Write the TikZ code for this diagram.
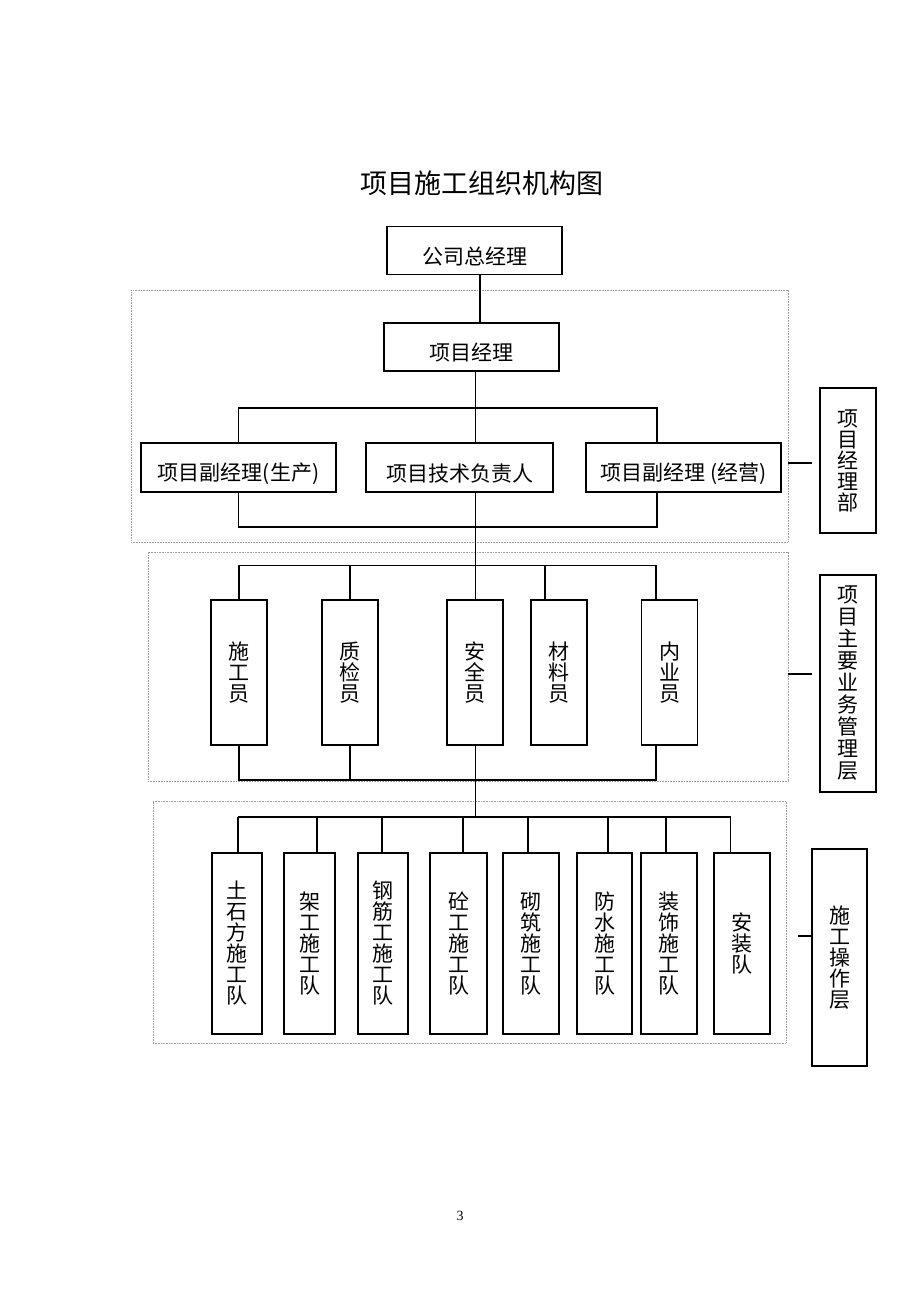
\documentclass[tikz,border=0pt]{standalone}
\usepackage{fontspec}
\setmainfont{Liberation Serif}
\newfontfamily\cjk{Noto Sans CJK SC}
\newcommand\lowtxt[1]{\raisebox{-4.5pt}[\height][\depth]{#1}}
\begin{document}
\begin{tikzpicture}[x=0.75pt,y=-0.75pt,
  wh/.style 2 args={minimum width=#1*0.75pt, minimum height=#2*0.75pt},
  bx/.style={draw, line width=1.2pt, inner sep=0pt, align=center,
    font=\cjk\fontsize{15.75}{15.75}\selectfont},
  conn/.style={line width=1pt},
  grp/.style={draw=gray!75, line width=0.7pt, dash pattern=on 0.6pt off 0.6pt, inner sep=0pt}]
\useasboundingbox (0,0) rectangle (920,1302);

% title
\node[font=\cjk\fontsize{20.25}{24}\selectfont] (title) at (482,183) {项目施工组织机构图};

% dotted groups
\node[grp, wh={657}{252}] (g1) at (459.5,416) {};
\node[grp, wh={640}{229}] (g2) at (468,666.5) {};
\node[grp, wh={633}{242}] (g3) at (469.5,922) {};

% top
\node[bx, wh={175}{48}] (gm) at (474.5,250.5) {\lowtxt{公司总经理}};
\node[bx, wh={175}{48}] (pm) at (471.5,347) {\lowtxt{项目经理}};

% level 1
\node[bx, wh={195}{49}] (sc) at (238.5,467.5) {\lowtxt{项目副经理(生产)}};
\node[bx, wh={187}{49}] (js) at (459.5,467.5) {\lowtxt{项目技术负责人}};
\node[bx, wh={195}{49}] (jy) at (683.5,467.5) {\lowtxt{项目副经理 (经营)}};

% level 2
\node[bx, wh={56}{145}] (sgy) at (239,672.5) {施\\工\\员};
\node[bx, wh={56}{145}] (zjy) at (350,672.5) {质\\检\\员};
\node[bx, wh={56}{145}] (aqy) at (475,672.5) {安\\全\\员};
\node[bx, wh={56}{145}] (cly) at (559,672.5) {材\\料\\员};
\node[bx, wh={56}{145}] (nyy) at (669.5,672.5) {内\\业\\员};

% level 3
\node[bx, wh={50}{181}] (t1) at (237,943.5) {土\\石\\方\\施\\工\\队};
\node[bx, wh={51}{181}] (t2) at (309.5,943.5) {架\\工\\施\\工\\队};
\node[bx, wh={50}{181}] (t3) at (383,943.5) {钢\\筋\\工\\施\\工\\队};
\node[bx, wh={57}{181}] (t4) at (458.5,943.5) {砼\\工\\施\\工\\队};
\node[bx, wh={56}{181}] (t5) at (531,943.5) {砌\\筑\\施\\工\\队};
\node[bx, wh={55}{181}] (t6) at (604.5,943.5) {防\\水\\施\\工\\队};
\node[bx, wh={56}{181}] (t7) at (669,943.5) {装\\饰\\施\\工\\队};
\node[bx, wh={56}{181}] (t8) at (742,943.5) {安\\装\\队};

% side labels
\node[bx, wh={56}{145}] (s1) at (848,460.5) {项\\目\\经\\理\\部};
\node[bx, wh={56}{217}, font=\cjk\fontsize{15.75}{16.5}\selectfont] (s2) at (848,683.5) {项\\目\\主\\要\\业\\务\\管\\理\\层};
\node[bx, wh={55}{217}] (s3) at (839.5,957.5) {施\\工\\操\\作\\层};

% connectors: top
\coordinate (axA) at (480,0);
\coordinate (axB) at (475.5,0);
\draw[conn] (gm.south -| axA) -- (pm.north -| axA);
\draw[conn] (pm.south -| axB) -- (js.north -| axB);
\draw[conn] (js.south -| axB) -- (aqy.north -| axB);
\coordinate (b3) at (475.5,817);
\draw[conn] (aqy.south -| axB) -- (b3);

% group 1
\coordinate (b1R) at (657,408);
\coordinate (b1B) at (657,527);
\draw[conn] (sc.north) |- (b1R) -- (b1R |- jy.north);
\draw[conn] (sc.south) |- (b1B) -- (b1B |- jy.south);

% group 2
\coordinate (b2R) at (656,565.5);
\coordinate (b2B) at (656,780);
\coordinate (v545) at (545,565.5);
\draw[conn] (sgy.north) |- (b2R) -- (b2R |- nyy.north);
\draw[conn] (zjy.north) -- (zjy.north |- b2R);
\draw[conn] (v545) -- (v545 |- cly.north);
\draw[conn] (sgy.south) |- (b2B) -- (b2B |- nyy.south);
\draw[conn] (zjy.south) -- (zjy.south |- b2B);

% group 3
\coordinate (v1) at (238,817);
\coordinate (v2) at (317,817);
\coordinate (v3) at (382,817);
\coordinate (v4) at (463,817);
\coordinate (v5) at (528,817);
\coordinate (v6) at (608,817);
\coordinate (v7) at (666,817);
\coordinate (v8) at (730.5,817);
\draw[conn] (v1) -- (v8);
\foreach \i in {1,...,8} {\draw[conn] (v\i) -- (v\i |- t\i.north);}

% side dashes
\coordinate (d1) at (812,463);
\coordinate (d2) at (812,674);
\coordinate (d3) at (798,936);
\draw[conn] (d1 -| g1.east) -- (d1);
\draw[conn] (d2 -| g2.east) -- (d2);
\draw[conn] (d3) -- (d3 -| s3.west);

% page number
\node[font=\fontsize{10.5}{12}\selectfont] (pg) at (460,1216) {3};
\end{tikzpicture}
\end{document}
